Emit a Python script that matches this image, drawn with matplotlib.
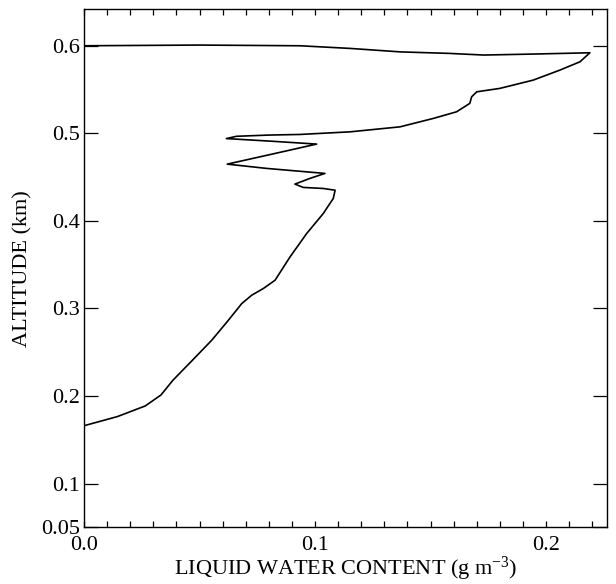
import matplotlib
matplotlib.use('Agg')
import matplotlib.pyplot as plt
from matplotlib.ticker import MultipleLocator

plt.rcParams['font.family'] = ['Liberation Serif', 'DejaVu Serif']
plt.rcParams['mathtext.default'] = 'regular'

# liquid water content (g m-3) and altitude (km), traced from bottom to top
lwc = [0.0, 0.0145, 0.0265, 0.0333, 0.0385, 0.047, 0.0553, 0.0625, 0.0683,
       0.0726, 0.0776, 0.0827, 0.0892, 0.0964, 0.1036, 0.1079, 0.1087,
       0.1036, 0.0949, 0.0913, 0.0978, 0.1043, 0.0791, 0.062, 0.081, 0.1007,
       0.081, 0.0616, 0.066, 0.080, 0.0935, 0.1152, 0.1368, 0.1512, 0.1613,
       0.167, 0.1678, 0.170, 0.180, 0.1945, 0.206, 0.2147, 0.219, 0.194,
       0.173, 0.158, 0.137, 0.115, 0.0935, 0.05, 0.0]
alt = [0.166, 0.1765, 0.1886, 0.2011, 0.218, 0.241, 0.2637, 0.2865, 0.3056,
       0.3151, 0.3227, 0.3322, 0.3589, 0.3856, 0.4085, 0.4256, 0.435,
       0.437, 0.4382, 0.442, 0.4485, 0.4542, 0.4599, 0.4648, 0.476, 0.4877,
       0.491, 0.494, 0.4966, 0.498, 0.4987, 0.5017, 0.5074, 0.517, 0.5246,
       0.5342, 0.5417, 0.5474, 0.5513, 0.5608, 0.5722, 0.5817, 0.592, 0.5905,
       0.5894, 0.5913, 0.593, 0.597, 0.6, 0.6008, 0.6]

xticks = [0.0, 0.1, 0.2]
xticklabels = ['0.0', '0.1', '0.2']
yticks = [0.05, 0.1, 0.2, 0.3, 0.4, 0.5, 0.6]
yticklabels = ['0.05', '0.1', '0.2', '0.3', '0.4', '0.5', '0.6']

fig = plt.figure(figsize=(6.16, 5.84), dpi=100)
ax = fig.add_axes([0.1364, 0.0971, 0.849, 0.8875])
ax.plot(lwc, alt, color='black', lw=1.2)

ax.set_xlim(0, 0.2264)
ax.set_ylim(0.05, 0.642)
ax.set_xticks(xticks)
ax.set_xticklabels(xticklabels)
ax.xaxis.set_minor_locator(MultipleLocator(0.01))
ax.set_yticks(yticks)
ax.set_yticklabels(yticklabels)

ax.tick_params(axis='x', which='both', direction='in', top=True, length=4,
               width=0.9, labelsize=16, pad=6)
ax.tick_params(axis='y', which='major', direction='in', right=True, length=10,
               width=0.9, labelsize=16, pad=3)
for s in ax.spines.values():
    s.set_linewidth(1.0)

ax.set_xlabel('LIQUID WATER CONTENT (g m$^{-3}$)', fontsize=16, labelpad=0)
ax.set_ylabel('ALTITUDE (km)', fontsize=16, labelpad=6)

fig.savefig('out.png', dpi=100)
